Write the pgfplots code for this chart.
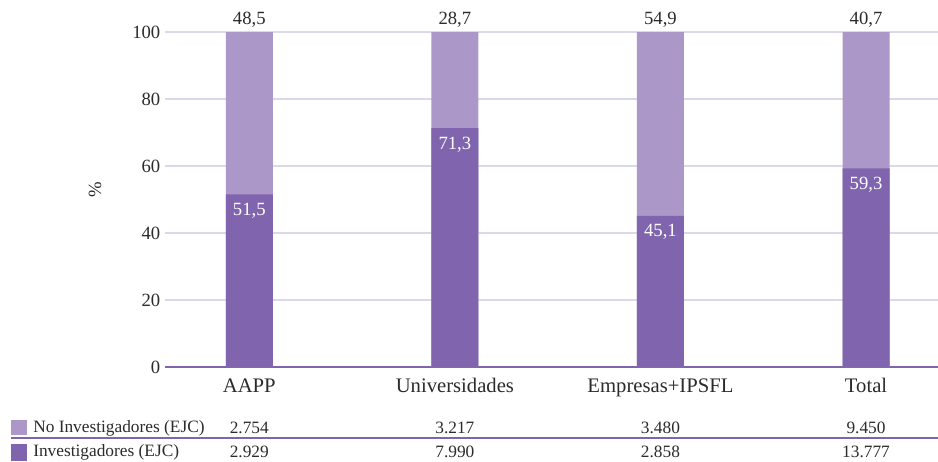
\documentclass[border=0pt]{standalone}
\usepackage{fontspec}
\setmainfont{Liberation Serif}
\usepackage{pgfplots}
\pgfplotsset{compat=1.18}
\usepackage{pgfplotstable}
\definecolor{darkp}{HTML}{8064AD}
\definecolor{lightp}{HTML}{AB98C8}
\definecolor{gridc}{HTML}{DDD6EC}
\definecolor{txt}{HTML}{2B2B2B}
\pgfplotstableread{
x inv noinv
0 51.5 48.5
1 71.3 28.7
2 45.1 54.9
3 59.3 40.7
}\data
\newcommand\bigf{\fontsize{14}{16}\selectfont}
\newcommand\xf{\fontsize{15.5}{17}\selectfont}
\newcommand\tabf{\fontsize{13}{15}\selectfont}
\newcommand\numfmt{\pgfmathprintnumber[use comma,fixed,fixed zerofill,precision=1,assume math mode=true]{\pgfplotspointmeta}}
\begin{document}
\begin{tikzpicture}
\begin{axis}[
  scale only axis, width=579.75pt, height=251.25pt,
  ybar=0pt, bar shift=0pt, bar width=35.25pt,
  xmin=-0.41, xmax=3.35, ymin=0, ymax=100,
  xtick={0,1,2,3}, xticklabels={AAPP,Universidades,Empresas+IPSFL,Total},
  ytick={0,20,...,100},
  ymajorgrids, grid style={gridc, line width=1pt},
  major tick length=0,
  axis lines*=left,
  x axis line style={darkp, line width=1.2pt, -},
  y axis line style={draw=none},
  tick label style={font=\bigf, text=txt},
  xticklabel style={font=\xf, yshift=-5pt},
  /pgf/number format/assume math mode=true,
  ylabel={\%},
  ylabel style={font=\bigf, text=txt, at={(rel axis cs:-0.0906,0.528)}, anchor=center},
  clip=false,
]
\addplot[fill=lightp, draw=none, point meta=explicit,
  nodes near coords={\numfmt},
  every node near coord/.append style={anchor=south, text=txt, font=\bigf, yshift=0pt}]
  table[x=x, y expr=\thisrow{inv}+\thisrow{noinv}, meta=noinv] {\data};
\addplot[fill=darkp, draw=none, point meta=explicit,
  nodes near coords={\numfmt},
  every node near coord/.append style={anchor=north, text=white, font=\bigf, yshift=-3pt}]
  table[x=x, y=inv, meta=inv] {\data};
\coordinate (O) at (rel axis cs:0,0);
\coordinate (E) at (rel axis cs:1,0);
\node[font=\tabf, text=txt, yshift=-45.75pt] at (axis cs:0,0) {2.754};
\node[font=\tabf, text=txt, yshift=-45.75pt] at (axis cs:1,0) {3.217};
\node[font=\tabf, text=txt, yshift=-45.75pt] at (axis cs:2,0) {3.480};
\node[font=\tabf, text=txt, yshift=-45.75pt] at (axis cs:3,0) {9.450};
\node[font=\tabf, text=txt, yshift=-64pt] at (axis cs:0,0) {2.929};
\node[font=\tabf, text=txt, yshift=-64pt] at (axis cs:1,0) {7.990};
\node[font=\tabf, text=txt, yshift=-64pt] at (axis cs:2,0) {2.858};
\node[font=\tabf, text=txt, yshift=-64pt] at (axis cs:3,0) {13.777};
\end{axis}
\draw[darkp, line width=1.4pt] ([shift={(-115.5pt,-53.25pt)}]O) -- ([yshift=-53.25pt]E);
\fill[lightp] ([shift={(-115.5pt,-51pt)}]O) rectangle ++(12pt,11.25pt);
\fill[darkp] ([shift={(-115.5pt,-70.5pt)}]O) rectangle ++(12pt,12.75pt);
\node[font=\tabf, text=txt, anchor=west, inner sep=0pt] at ([shift={(-99pt,-45.75pt)}]O) {No Investigadores (EJC)};
\node[font=\tabf, text=txt, anchor=west, inner sep=0pt] at ([shift={(-99pt,-64pt)}]O) {Investigadores (EJC)};
\pgfresetboundingbox
\path ([shift={(-123.75pt,-70.5pt)}]O) rectangle ++(703.5pt,345.75pt);
\end{tikzpicture}
\end{document}
